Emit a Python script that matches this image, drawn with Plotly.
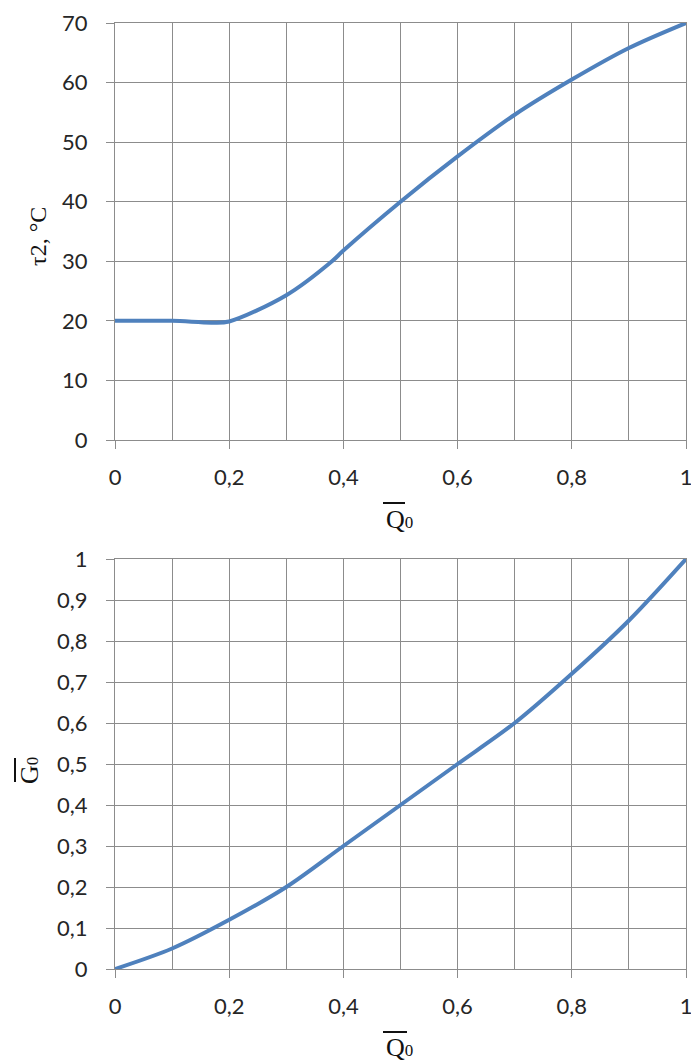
import plotly.graph_objects as go

# Data
q_top = [0, 0.1, 0.17, 0.2, 0.3, 0.38, 0.4, 0.5, 0.6, 0.7, 0.8, 0.9, 1.0]
tau2 = [20, 20, 19.7, 19.9, 24.3, 30, 31.8, 40, 47.6, 54.6, 60.5, 65.8, 70]

q_bot = [0, 0.1, 0.2, 0.3, 0.4, 0.5, 0.6, 0.7, 0.8, 0.9, 1.0]
g0 = [0, 0.05, 0.12, 0.2, 0.3, 0.4, 0.5, 0.6, 0.72, 0.85, 1.0]

x_ticks = [0, 0.2, 0.4, 0.6, 0.8, 1]
x_ticklabels = ["0", "0,2", "0,4", "0,6", "0,8", "1"]
y1_ticks = [0, 10, 20, 30, 40, 50, 60, 70]
y1_ticklabels = [str(v) for v in y1_ticks]
y2_ticks = [i / 10 for i in range(11)]
y2_ticklabels = ["0", "0,1", "0,2", "0,3", "0,4", "0,5", "0,6", "0,7", "0,8", "0,9", "1"]

OFF = 8  # page body margin
W, H = 699 - OFF, 1062 - OFF
LINE = "#4f81bd"
GRID = "#8c8c8c"
TICKFONT = dict(family="Lato", size=22, color="#262626")
SERIF = "Liberation Serif"

fig = go.Figure()
fig.add_trace(go.Scatter(x=q_top, y=tau2, mode="lines", xaxis="x", yaxis="y",
                         line=dict(color=LINE, width=4, shape="spline", smoothing=0.9),
                         showlegend=False))
fig.add_trace(go.Scatter(x=q_bot, y=g0, mode="lines", xaxis="x2", yaxis="y2",
                         line=dict(color=LINE, width=4, shape="spline", smoothing=0.9),
                         showlegend=False))

def px_x(p):
    return (p - OFF) / W

def px_y(p):
    return (H - (p - OFF)) / H

xdom = [px_x(115), px_x(686)]
common_x = dict(range=[0, 1], tickvals=x_ticks, ticktext=x_ticklabels, ticks="outside",
                ticklen=8, tickcolor=GRID, showgrid=True, gridcolor=GRID, gridwidth=1,
                showline=True, linecolor=GRID, linewidth=1, mirror=True, zeroline=False,
                minor=dict(dtick=0.1, tick0=0, showgrid=True, gridcolor=GRID, gridwidth=1),
                tickfont=TICKFONT, ticklabelstandoff=10, fixedrange=True, automargin=False)
common_y = dict(ticks="outside", ticklen=8, tickcolor=GRID, showgrid=True, gridcolor=GRID,
                gridwidth=1, showline=True, linecolor=GRID, linewidth=1, mirror=True,
                zeroline=False, tickfont=TICKFONT, ticklabelstandoff=14, fixedrange=True,
                automargin=False)

fig.update_layout(
    width=W, height=H, autosize=False,
    margin=dict(l=0, r=0, t=0, b=0, pad=0, autoexpand=False),
    paper_bgcolor="white", plot_bgcolor="white", showlegend=False,
    xaxis=dict(domain=xdom, anchor="y", **common_x),
    yaxis=dict(domain=[px_y(440), px_y(23)], anchor="x", range=[0, 70],
               tickvals=y1_ticks, ticktext=y1_ticklabels, **common_y),
    xaxis2=dict(domain=xdom, anchor="y2", **common_x),
    yaxis2=dict(domain=[px_y(969), px_y(559)], anchor="x2", range=[0, 1],
                tickvals=y2_ticks, ticktext=y2_ticklabels, **common_y),
)

ann_font = dict(family=SERIF, size=26, color="#111111")
sub = "<span style='font-size:17px'>0</span>"
fig.add_annotation(x=px_x(399), y=px_y(520), xref="paper", yref="paper", showarrow=False,
                   text="Q" + sub, font=ann_font, xanchor="center", yanchor="middle")
fig.add_annotation(x=px_x(399), y=px_y(1047), xref="paper", yref="paper", showarrow=False,
                   text="Q" + sub, font=ann_font, xanchor="center", yanchor="middle")
fig.add_annotation(x=px_x(38), y=px_y(237), xref="paper", yref="paper", showarrow=False,
                   text="τ2, °C", textangle=-90, font=dict(family=SERIF, size=24, color="#111111"),
                   xanchor="center", yanchor="middle")
fig.add_annotation(x=px_x(30), y=px_y(770), xref="paper", yref="paper", showarrow=False,
                   text="G" + sub, textangle=-90, font=ann_font,
                   xanchor="center", yanchor="middle")

# overlines
fig.add_shape(type="line", xref="paper", yref="paper", x0=px_x(383), x1=px_x(405),
              y0=px_y(503), y1=px_y(503), line=dict(color="#111111", width=2))
fig.add_shape(type="line", xref="paper", yref="paper", x0=px_x(383), x1=px_x(407),
              y0=px_y(1032), y1=px_y(1032), line=dict(color="#111111", width=2))
fig.add_shape(type="line", xref="paper", yref="paper", x0=px_x(15), x1=px_x(15),
              y0=px_y(758), y1=px_y(782), line=dict(color="#111111", width=2))

fig.write_html("out.html")
